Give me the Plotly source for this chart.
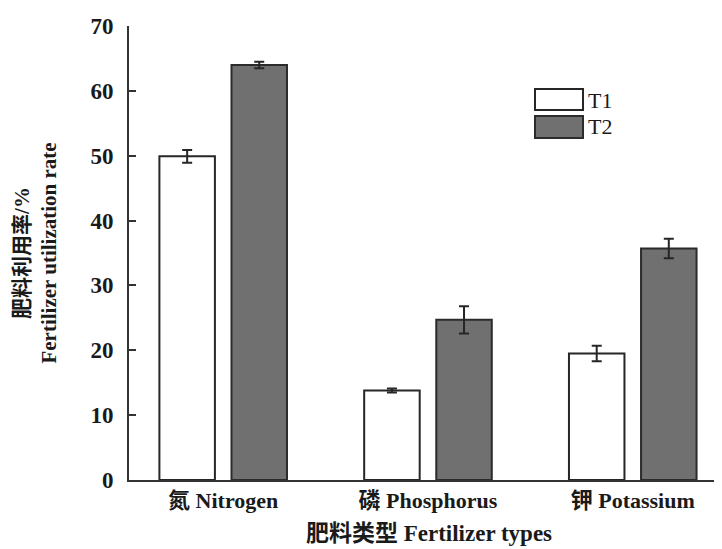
import plotly.graph_objects as go

categories = ["氮 Nitrogen", "磷 Phosphorus", "钾 Potassium"]
t1_values = [49.9, 13.8, 19.5]
t1_errors = [1.0, 0.3, 1.2]
t2_values = [64.0, 24.7, 35.7]
t2_errors = [0.5, 2.1, 1.5]
y_ticks = [0, 10, 20, 30, 40, 50, 60, 70]

FONT = "Liberation Serif, Times New Roman, Noto Sans CJK SC, serif"

x_idx = list(range(len(categories)))

L, T, B = 121, 18, 77
PW, PH = 722 - L - 1, 549 - T - B

fig = go.Figure()
fig.add_trace(go.Bar(
    name="T1", x=x_idx, y=t1_values,
    marker=dict(color="white", line=dict(color="#262626", width=2)),
    error_y=dict(type="data", array=t1_errors, color="#262626", thickness=2, width=5),
))
fig.add_trace(go.Bar(
    name="T2", x=x_idx, y=t2_values,
    marker=dict(color="#707070", line=dict(color="#2b2b2b", width=2)),
    error_y=dict(type="data", array=t2_errors, color="#262626", thickness=2, width=5),
))

fig.update_layout(
    width=722, height=549,
    margin=dict(l=L, r=1, t=T, b=B),
    paper_bgcolor="white", plot_bgcolor="white",
    barmode="group", bargap=0.296, bargroupgap=0.23,
    showlegend=False,
    font=dict(family=FONT, color="#1a1a1a"),
)
fig.update_xaxes(
    tickmode="array", tickvals=x_idx, ticktext=[f"<b>{c}</b>" for c in categories],
    range=[-0.46, 2.47], automargin=False,
    showline=True, linecolor="#333333", linewidth=2,
    ticks="", showgrid=False, zeroline=False,
    tickfont=dict(size=22, family=FONT, color="#1a1a1a"),
    title=dict(text="<b>肥料类型 Fertilizer types</b>", font=dict(size=23, family=FONT), standoff=12),
)
fig.update_yaxes(
    range=[0, 70], tickmode="array", tickvals=y_ticks,
    ticktext=[f"<b>{v}</b>" for v in y_ticks], automargin=False,
    showline=True, linecolor="#333333", linewidth=2,
    ticks="inside", ticklen=7, tickwidth=1.5, tickcolor="#333333",
    ticklabelstandoff=9,
    showgrid=False, zeroline=False,
    tickfont=dict(size=23, family=FONT, color="#1a1a1a"),
    title=dict(text="<b>肥料利用率/%</b><br><b>Fertilizer utilization rate</b>",
               font=dict(size=21, family=FONT), standoff=28),
)

# legend drawn as boxes + labels
def px(x):
    return (x - L) / PW

def py(y):
    return (549 - B - y) / PH

fig.add_shape(type="rect", xref="paper", yref="paper",
              x0=px(527), x1=px(575), y0=py(102), y1=py(81),
              line=dict(color="#262626", width=2), fillcolor="white")
fig.add_shape(type="rect", xref="paper", yref="paper",
              x0=px(527), x1=px(575), y0=py(130), y1=py(108),
              line=dict(color="#2b2b2b", width=2), fillcolor="#707070")
fig.add_annotation(xref="paper", yref="paper", x=px(578), y=py(92),
                   text="T1", showarrow=False, xanchor="left", yanchor="middle",
                   font=dict(size=22, family=FONT, color="#1a1a1a"))
fig.add_annotation(xref="paper", yref="paper", x=px(578), y=py(119),
                   text="T2", showarrow=False, xanchor="left", yanchor="middle",
                   font=dict(size=22, family=FONT, color="#1a1a1a"))

fig.write_html("out.html")
